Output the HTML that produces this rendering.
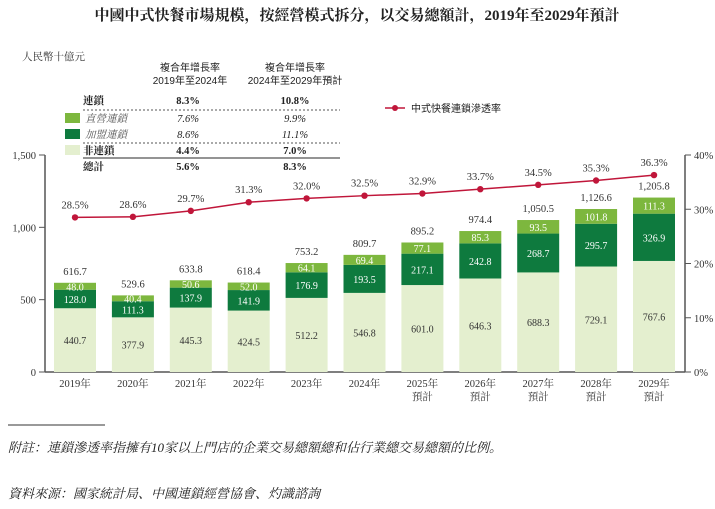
<!DOCTYPE html>
<html><head><meta charset="utf-8">
<style>
body{margin:0;background:#fff;width:715px;height:509px;overflow:hidden;font-family:"Liberation Serif","Noto Serif CJK SC",serif;}
svg{display:block}
</style></head>
<body>
<svg width="715" height="509" xmlns="http://www.w3.org/2000/svg">
<text x="357" y="20" text-anchor="middle" font-size="15" font-weight="bold" fill="#222" font-family="Liberation Serif,'Noto Serif CJK SC',serif">中國中式快餐市場規模，按經營模式拆分，以交易總額計，2019年至2029年預計</text>
<text x="22" y="60" font-size="10.5" fill="#333">人民幣十億元</text>
<g font-size="10" fill="#222" font-family="Liberation Sans,'Noto Sans CJK SC',sans-serif">
<text x="190" y="71" text-anchor="middle">複合年增長率</text>
<text x="190" y="84" text-anchor="middle">2019年至2024年</text>
<text x="295" y="71" text-anchor="middle">複合年增長率</text>
<text x="295" y="84" text-anchor="middle">2024年至2029年預計</text>
</g>
<g font-size="10.5" fill="#222">
<text x="83" y="104" font-weight="bold">連鎖</text><text x="188" y="104" text-anchor="middle" font-weight="bold">8.3%</text><text x="295" y="104" text-anchor="middle" font-weight="bold">10.8%</text>
<line x1="83" y1="110" x2="340" y2="110" stroke="#555" stroke-dasharray="2,2"/>
<rect x="65" y="113" width="15" height="10" fill="#7db73e"/>
<text x="85" y="122" font-style="italic" fill="#555">直營連鎖</text><text x="188" y="122" text-anchor="middle" font-style="italic">7.6%</text><text x="295" y="122" text-anchor="middle" font-style="italic">9.9%</text>
<rect x="65" y="129" width="15" height="10" fill="#0e7a3e"/>
<text x="85" y="138" font-style="italic" fill="#555">加盟連鎖</text><text x="188" y="138" text-anchor="middle" font-style="italic">8.6%</text><text x="295" y="138" text-anchor="middle" font-style="italic">11.1%</text>
<line x1="83" y1="143" x2="340" y2="143" stroke="#555" stroke-dasharray="2,2"/>
<rect x="65" y="145" width="15" height="10" fill="#e4efcf"/>
<text x="83" y="154" font-weight="bold">非連鎖</text><text x="188" y="154" text-anchor="middle" font-weight="bold">4.4%</text><text x="295" y="154" text-anchor="middle" font-weight="bold">7.0%</text>
<line x1="83" y1="158" x2="340" y2="158" stroke="#555" stroke-width="1.2"/>
<text x="83" y="170" font-weight="bold">總計</text><text x="188" y="170" text-anchor="middle" font-weight="bold">5.6%</text><text x="295" y="170" text-anchor="middle" font-weight="bold">8.3%</text>
</g>
<g>
<line x1="385" y1="108" x2="405" y2="108" stroke="#c0163a" stroke-width="1.5"/>
<circle cx="395" cy="108" r="3" fill="#c0163a"/>
<text x="411" y="112" font-size="10" fill="#222" font-family="Liberation Sans,'Noto Sans CJK SC',sans-serif">中式快餐連鎖滲透率</text>
</g>
<g id="plot"></g>
<line x1="8" y1="425" x2="105" y2="425" stroke="#333"/>
<text x="8" y="452" font-size="13" font-style="italic" fill="#222">附註：連鎖滲透率指擁有10家以上門店的企業交易總額總和佔行業總交易總額的比例。</text>
<text x="8" y="498" font-size="13" font-style="italic" fill="#222">資料來源：國家統計局、中國連鎖經營協會、灼識諮詢</text>
</svg>
<script>
const categories=["2019年","2020年","2021年","2022年","2023年","2024年","2025年","2026年","2027年","2028年","2029年"];
const nonChain=[440.7,377.9,445.3,424.5,512.2,546.8,601.0,646.3,688.3,729.1,767.6];
const franchise=[128.0,111.3,137.9,141.9,176.9,193.5,217.1,242.8,268.7,295.7,326.9];
const direct=[48.0,40.4,50.6,52.0,64.1,69.4,77.1,85.3,93.5,101.8,111.3];
const totals=[616.7,529.6,633.8,618.4,753.2,809.7,895.2,974.4,1050.5,1126.6,1205.8];
const penetration=[28.5,28.6,29.7,31.3,32.0,32.5,32.9,33.7,34.5,35.3,36.3];
const leftTicks=[0,500,1000,1500];
const rightTicks=[0,10,20,30,40];
const NS="http://www.w3.org/2000/svg";
const g=document.getElementById('plot');
const x0=45,x1=685,yb=372,yt=155;
const y=v=>yb-(v/1500)*(yb-yt);
const yr=v=>yb-(v/40)*(yb-yt);
const step=57.9,bw=42;
const xc=i=>75+i*step;
function el(t,a,txt){const e=document.createElementNS(NS,t);for(const k in a)e.setAttribute(k,a[k]);if(txt!==undefined)e.textContent=txt;g.appendChild(e);return e;}
// axes
let e=el('line',{x1:x0,y1:yt,x2:x0,y2:yb,stroke:'#555','stroke-width':1.5});


e=el('line',{x1:x1,y1:yt,x2:x1,y2:yb,stroke:'#555','stroke-width':1.5});


e=el('line',{x1:x0,y1:yb,x2:x1,y2:yb,stroke:'#555','stroke-width':1.5});


leftTicks.forEach(t=>{
 el('line',{x1:x0-6,y1:y(t),x2:x0,y2:y(t),stroke:'#555'});
 e=el('text',{x:x0-9,y:y(t)+4,'text-anchor':'end','font-size':10.5,fill:'#333'},t.toLocaleString('en-US'));
 
 
});
rightTicks.forEach(t=>{
 el('line',{x1:x1,y1:yr(t),x2:x1+6,y2:yr(t),stroke:'#555'});
 e=el('text',{x:x1+9,y:yr(t)+4,'font-size':10.5,fill:'#333'},t+'%');
 
 
});
categories.forEach((c,i)=>{
 const cx=xc(i),bx=cx-bw/2;
 const a=y(nonChain[i]),b=y(nonChain[i]+franchise[i]),d=y(nonChain[i]+franchise[i]+direct[i]);
 e=el('rect',{x:bx,y:a,width:bw,height:yb-a,fill:'#e4efcf'});
 
 
 e=el('rect',{x:bx,y:b,width:bw,height:a-b,fill:'#0e7a3e'});
 
 
 e=el('rect',{x:bx,y:d,width:bw,height:b-d,fill:'#7db73e'});
 
 
 el('text',{x:cx,y:(a+yb)/2+4,'text-anchor':'middle','font-size':10,fill:'#333'},nonChain[i].toFixed(1));
 el('text',{x:cx,y:(a+b)/2+4,'text-anchor':'middle','font-size':10,fill:'#fff'},franchise[i].toFixed(1));
 el('text',{x:cx,y:(b+d)/2+4,'text-anchor':'middle','font-size':10,fill:'#fff'},direct[i].toFixed(1));
 el('text',{x:cx,y:d-8,'text-anchor':'middle','font-size':10.5,fill:'#333'},totals[i].toLocaleString('en-US',{minimumFractionDigits:1}));
 const lbl=el('text',{x:cx,y:yb+15,'text-anchor':'middle','font-size':10.5,fill:'#333'},c);
 
 
 if(i>=6){el('text',{x:cx,y:yb+28,'text-anchor':'middle','font-size':10.5,fill:'#333'},'預計');}
});
const pts=penetration.map((p,i)=>xc(i)+','+yr(p)).join(' ');
e=el('polyline',{points:pts,fill:'none',stroke:'#c0163a','stroke-width':1.5});


penetration.forEach((p,i)=>{
 e=el('circle',{cx:xc(i),cy:yr(p),r:3.2,fill:'#c0163a'});
 
 
 el('text',{x:xc(i),y:yr(p)-9,'text-anchor':'middle','font-size':10.5,fill:'#333'},p.toFixed(1)+'%');
});
</script>
</body></html>
